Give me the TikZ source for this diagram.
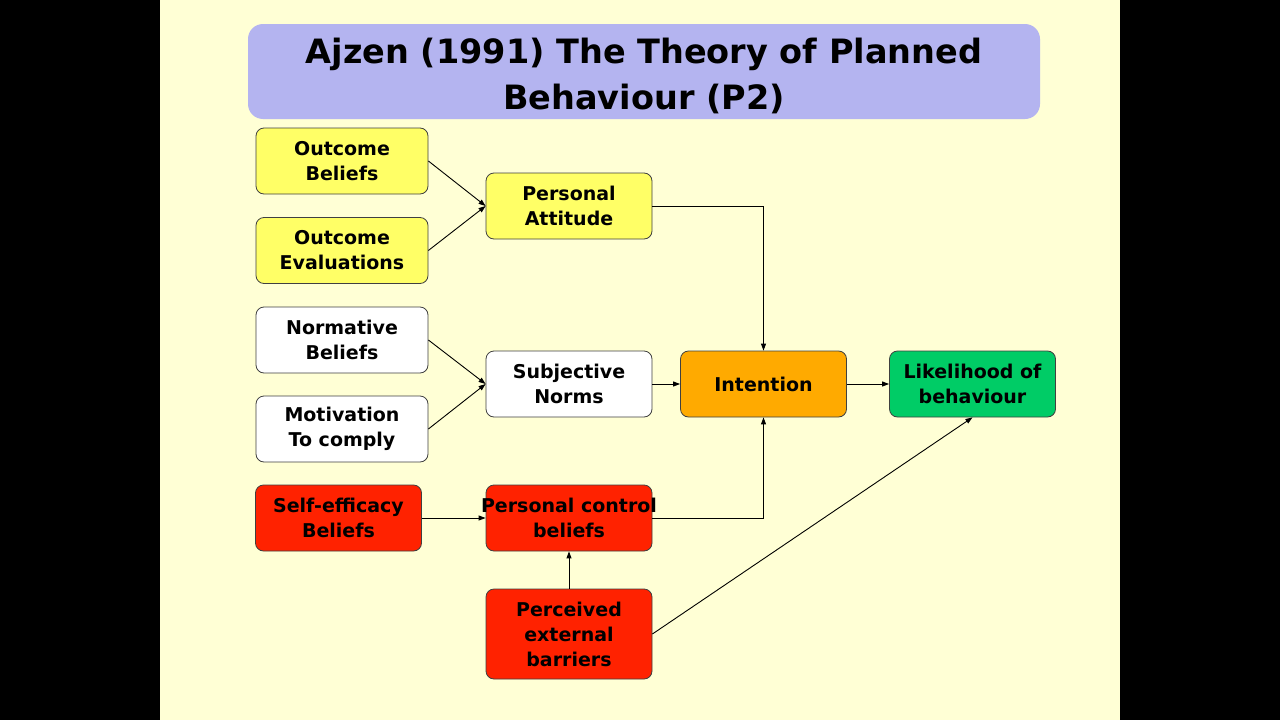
\documentclass[tikz,border=0pt]{standalone}
\usepackage{fontspec}
\setmainfont{DejaVu Sans}
\usetikzlibrary{arrows.meta}
\definecolor{cream}{HTML}{FFFFD5}
\definecolor{lavender}{HTML}{B4B4F0}
\definecolor{beliefyellow}{HTML}{FFFF66}
\definecolor{intentorange}{HTML}{FFAA00}
\definecolor{likelygreen}{HTML}{00CC66}
\definecolor{controlred}{HTML}{FF2200}
\tikzset{
	>={Triangle[length=7pt,width=5pt]},
	punkt/.style={
		rectangle,
		rounded corners=8pt,
		draw=black!75, line width=0.8pt,
		minimum width=166pt,
		minimum height=66pt,
		inner sep=0pt,
		align=center,
		font=\bfseries\fontsize{19}{25}\selectfont},
	wide/.style={minimum width=172pt},
	line/.style={draw, line width=0.9pt, ->},
}

\begin{document}
\begin{tikzpicture}[x=1pt,y=-1pt]
	% Slide background with the black side bars
	\fill[black] (0,0) rectangle (1280,720);
	\fill[cream] (160,0) rectangle (1120,720);
	\useasboundingbox (0,0) rectangle (1280,720);

	% Title banner
	\fill[lavender, rounded corners=15pt] (248,24) rectangle (1040,119);
	\node[align=center, font=\bfseries\fontsize{33.5}{46}\selectfont] (title) at (644,76)
		{Ajzen (1991) The Theory of Planned\\Behaviour (P2)};

	% Attitude branch
	\node[punkt, wide, fill=beliefyellow] (ob) at (342,161) {Outcome\\Beliefs};
	\node[punkt, wide, fill=beliefyellow] (oe) at (342,250.5) {Outcome\\Evaluations};
	\node[punkt, fill=beliefyellow] (pa) at (569,206) {Personal\\Attitude};

	% Norms branch
	\node[punkt, wide, fill=white] (nb) at (342,340) {Normative\\Beliefs};
	\node[punkt, wide, fill=white] (mc) at (342,429) {Motivation\\To comply};
	\node[punkt, fill=white] (sn) at (569,384) {Subjective\\Norms};

	% Intention and outcome
	\node[punkt, fill=intentorange] (int) at (763.5,384) {Intention};
	\node[punkt, fill=likelygreen] (lik) at (972.5,384) {Likelihood of\\behaviour};

	% Control branch
	\node[punkt, fill=controlred] (se) at (338.5,518) {Self-efficacy\\Beliefs};
	\node[punkt, fill=controlred] (pcb) at (569,518)
		{\makebox[0pt]{Personal control}\\beliefs};
	\node[punkt, fill=controlred, minimum height=90pt] (peb) at (569,634)
		{Perceived\\external\\barriers};

	% Connectors
	\draw[line] (ob.east) -- (pa.west);
	\draw[line] (oe.east) -- (pa.west);
	\draw[line] (nb.east) -- (sn.west);
	\draw[line] (mc.east) -- (sn.west);
	\draw[line] (pa.east) -| (int.north);
	\draw[line] (sn.east) -- (int.west);
	\draw[line] (int.east) -- (lik.west);
	\draw[line] (se.east) -- (pcb.west);
	\draw[line] (pcb.east) -| (int.south);
	\draw[line] (peb.north) -- (pcb.south);
	\draw[line] (peb.east) -- (lik.south);
\end{tikzpicture}
\end{document}
